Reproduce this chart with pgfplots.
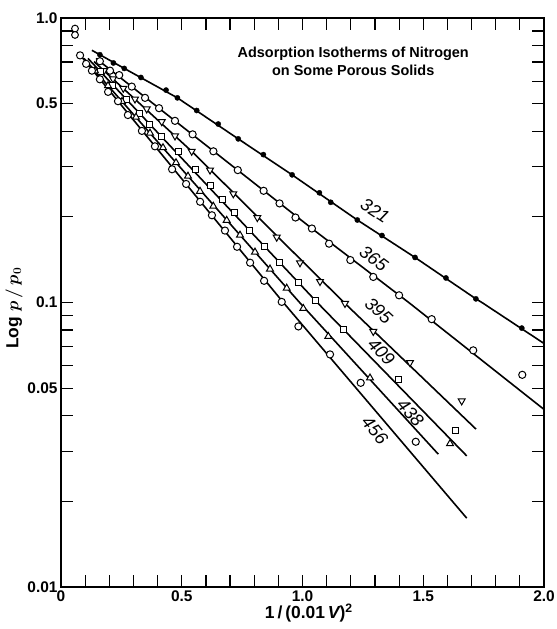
\documentclass[border=0pt]{standalone}
\usepackage{pgfplots}
\pgfplotsset{compat=1.18}
\usepackage{fontspec}
\setmainfont{Liberation Sans}

\begin{document}
\begin{tikzpicture}
\useasboundingbox (-61bp,-42bp) rectangle (496bp,587bp);
\begin{axis}[
    at={(0,0)}, anchor=south west,
    scale only axis, width=483bp, height=569bp,
    ymode=log,
    xmin=0, xmax=2, ymin=0.01, ymax=1,
    axis line style={line width=1.4bp},
    xtick={0,0.5,1,1.5,2},
    xticklabels={0,0.5,1.0,1.5,2.0},
    minor xtick={0.1,0.2,0.3,0.4,0.6,0.7,0.8,0.9,1.1,1.2,1.3,1.4,1.6,1.7,1.8,1.9},
    ytick={0.01,0.05,0.1,0.5,1},
    yticklabels={0.01,0.05,0.1,0.5,1.0},
    minor ytick={0.02,0.03,0.04,0.06,0.07,0.08,0.09,0.2,0.3,0.4,0.6,0.7,0.8,0.9},
    major tick length=12bp, minor tick length=12bp,
    every tick/.style={black, line width=1.2bp},
    tick label style={font=\fontsize{15.5}{15.5}\selectfont\bfseries},
    xlabel={\textbf{1\,/\,(0.01\,{\itshape V})}$^{\mathbf{2}}$},
    ylabel={\textbf{Log} {\boldmath$p\,/\,p_0$}},
    every axis x label/.style={at={(axis description cs:0.513,-0.046)}, anchor=center,
        font=\fontsize{17.5}{17.5}\selectfont},
    every axis y label/.style={at={(axis description cs:-0.097,0.49)}, rotate=90, anchor=center,
        font=\fontsize{17.5}{17.5}\selectfont},
    fitline/.style={no markers, line width=1.6bp, black},
    openmark/.style={only marks, black},
]

% fitted lines
\addplot[fitline] coordinates {(0.128,0.770)(0.161,0.743)(0.262,0.665)(0.482,0.524)(0.734,0.376)(0.957,0.281)(1.227,0.195)(1.466,0.144)(1.718,0.103)(1.743,0.1)(2.0,0.0718)};
\addplot[fitline] coordinates {(0.145,0.721)(0.472,0.435)(1.039,0.182)(1.44,0.1)(2.0,0.0421)};
\addplot[fitline] coordinates {(0.1366,0.703)(0.5412,0.340)(1.1718,0.1)(1.7184,0.0359)};
\addplot[fitline] coordinates {(0.1118,0.721)(1.061,0.1)(1.680,0.0289)};
\addplot[fitline] coordinates {(0.0952,0.721)(0.988,0.1)(1.5623,0.0293)};
\addplot[fitline] coordinates {(0.0704,0.757)(0.9205,0.1)(1.680,0.01746)};

% 321
\addplot[only marks, black, mark=*, mark size=2.6bp] coordinates {
(0.161,0.743)(0.217,0.695)(0.262,0.665)(0.331,0.618)(0.435,0.558)(0.482,0.524)
(0.562,0.473)(0.651,0.424)(0.734,0.376)(0.838,0.331)(0.957,0.281)(1.070,0.243)
(1.117,0.225)(1.227,0.195)(1.329,0.172)(1.466,0.144)(1.594,0.122)(1.718,0.103)
(1.908,0.0813)};

% 365
\addplot[openmark, mark=*, mark size=3.6bp, mark options={line width=1bp, fill=white}] coordinates {
(0.161,0.705)(0.203,0.653)(0.241,0.630)(0.293,0.574)(0.348,0.524)(0.406,0.482)
(0.472,0.435)(0.545,0.390)(0.631,0.340)(0.732,0.292)(0.839,0.247)(0.905,0.223)
(0.971,0.199)(1.039,0.182)(1.110,0.161)(1.198,0.141)(1.293,0.123)(1.400,0.106)
(1.535,0.0874)(1.707,0.0679)(1.910,0.0557)};

% 395
\addplot[openmark, mark=triangle*, mark size=4bp, mark options={rotate=180, line width=1bp, fill=white}] coordinates {
(0.1781,0.653)(0.2153,0.611)(0.2580,0.566)(0.3064,0.519)(0.3549,0.479)(0.4170,0.432)
(0.4720,0.385)(0.5412,0.340)(0.6170,0.292)(0.7135,0.241)(0.8129,0.1989)(0.8932,0.1696)
(0.9896,0.1379)(1.0725,0.1185)(1.1760,0.0992)(1.2932,0.0791)(1.4451,0.0615)(1.6592,0.0451)};

% 409
\addplot[openmark, mark=square*, mark size=3bp, mark options={line width=1bp, fill=white}] coordinates {
(0.1615,0.650)(0.2153,0.581)(0.2692,0.519)(0.3271,0.460)(0.3685,0.422)(0.4170,0.382)
(0.4857,0.340)(0.5549,0.294)(0.6199,0.257)(0.6696,0.231)(0.7164,0.207)(0.7826,0.1788)
(0.8447,0.1568)(0.9068,0.1377)(0.9814,0.1180)(1.0518,0.1019)(1.1689,0.0802)(1.3967,0.0536)
(1.6315,0.0356)};

% 438
\addplot[openmark, mark=triangle*, mark size=4bp, mark options={line width=1bp, fill=white}] coordinates {
(0.1408,0.652)(0.1946,0.578)(0.2526,0.509)(0.3106,0.448)(0.3685,0.394)(0.4224,0.350)
(0.4762,0.310)(0.5259,0.278)(0.5756,0.246)(0.6306,0.218)(0.6861,0.1945)(0.7412,0.1725)
(0.8033,0.1504)(0.8654,0.1311)(0.9346,0.1123)(1.0033,0.0953)(1.1068,0.0760)(1.2795,0.0543)
(1.6108,0.0319)};

% 456
\addplot[openmark, mark=*, mark size=3.6bp, mark options={line width=1bp, fill=white}] coordinates {
(0.079,0.739)(0.104,0.690)(0.128,0.653)(0.161,0.609)(0.195,0.550)(0.236,0.510)
(0.277,0.456)(0.335,0.401)(0.389,0.354)(0.460,0.294)(0.518,0.261)(0.576,0.226)
(0.625,0.2026)(0.679,0.179)(0.729,0.157)(0.783,0.138)(0.841,0.1192)(0.914,0.1005)
(0.983,0.0824)(1.114,0.0657)(1.241,0.0522)(1.469,0.0324)};

% stray points near top left
\addplot[openmark, mark=*, mark size=3.4bp, mark options={line width=1bp, fill=white}] coordinates {(0.058,0.918)(0.058,0.872)};

% curve labels
\begin{scope}[every node/.style={inner sep=0pt, font=\fontsize{18}{18}\selectfont\itshape}]
\node[rotate=-33] at (axis cs:1.300,0.210) {321};
\node[rotate=-37] at (axis cs:1.295,0.143) {365};
\node[rotate=-43] at (axis cs:1.316,0.0935) {395};
\node[rotate=-46] at (axis cs:1.327,0.0670) {409};
\node[rotate=-48] at (axis cs:1.447,0.0410) {438};
\node[rotate=-50] at (axis cs:1.300,0.0355) {456};
\end{scope}

\node[align=center, font=\fontsize{14.5}{17.5}\selectfont\bfseries] at (axis cs:1.21,0.703)
  {Adsorption Isotherms of Nitrogen\\on Some Porous Solids};
\end{axis}
\end{tikzpicture}
\end{document}
